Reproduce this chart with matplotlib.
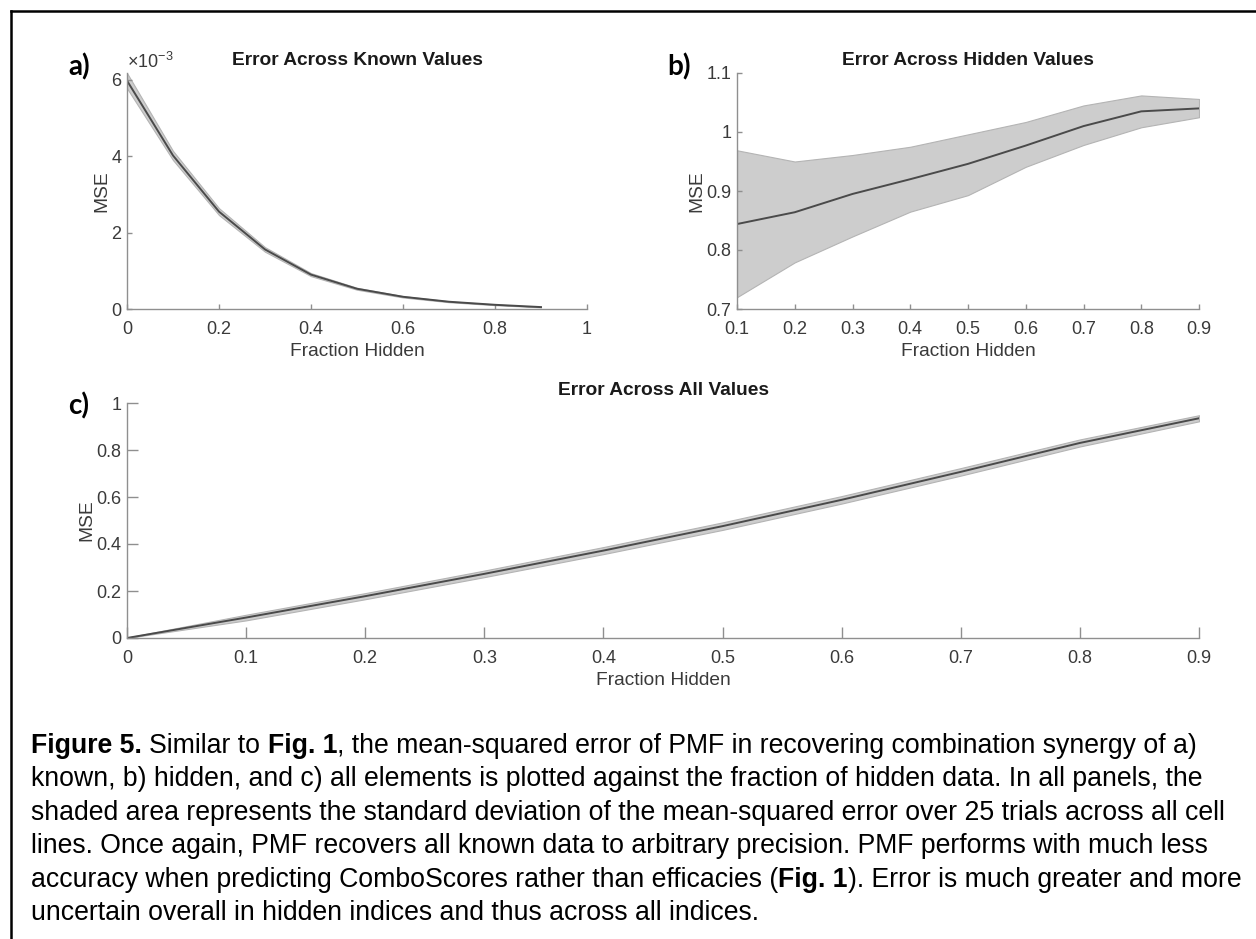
import matplotlib
matplotlib.use('Agg')
import matplotlib.pyplot as plt
from matplotlib.ticker import FuncFormatter, FixedLocator
from matplotlib.lines import Line2D

plt.rcParams['font.family'] = ['Liberation Sans', 'DejaVu Sans']
plt.rcParams['mathtext.fontset'] = 'custom'
plt.rcParams['mathtext.rm'] = 'Liberation Sans'
plt.rcParams['mathtext.it'] = 'Liberation Sans:italic'
plt.rcParams['mathtext.bf'] = 'Liberation Sans:bold'

# ---------------- data ----------------
# Panel a: error across known values (MSE)
frac_a = [0.0, 0.1, 0.2, 0.3, 0.4, 0.5, 0.6, 0.7, 0.8, 0.9]
mse_a = [5.98e-3, 4.02e-3, 2.55e-3, 1.56e-3, 0.90e-3, 0.53e-3, 0.32e-3, 0.19e-3, 0.11e-3, 0.05e-3]
std_a = [0.20e-3, 0.12e-3, 0.09e-3, 0.06e-3, 0.04e-3, 0.025e-3, 0.018e-3, 0.012e-3, 0.009e-3, 0.006e-3]

# Panel b: error across hidden values
frac_b = [0.1, 0.2, 0.3, 0.4, 0.5, 0.6, 0.7, 0.8, 0.9]
mse_b = [0.844, 0.864, 0.895, 0.920, 0.946, 0.977, 1.010, 1.035, 1.040]
upper_b = [0.969, 0.950, 0.961, 0.975, 0.996, 1.017, 1.045, 1.062, 1.056]
lower_b = [0.720, 0.779, 0.823, 0.865, 0.893, 0.941, 0.978, 1.008, 1.025]

# Panel c: error across all values
frac_c = [0.0, 0.1, 0.2, 0.3, 0.4, 0.5, 0.6, 0.7, 0.8, 0.9]
mse_c = [0.0, 0.087, 0.178, 0.273, 0.372, 0.476, 0.588, 0.707, 0.830, 0.935]
std_c = [0.002, 0.012, 0.013, 0.014, 0.015, 0.016, 0.016, 0.016, 0.015, 0.013]

xticks_a = [0, 0.2, 0.4, 0.6, 0.8, 1]
yticks_a = [0, 2e-3, 4e-3, 6e-3]
xticks_b = [0.1, 0.2, 0.3, 0.4, 0.5, 0.6, 0.7, 0.8, 0.9]
yticks_b = [0.7, 0.8, 0.9, 1.0, 1.1]
xticks_c = [0, 0.1, 0.2, 0.3, 0.4, 0.5, 0.6, 0.7, 0.8, 0.9]
yticks_c = [0, 0.2, 0.4, 0.6, 0.8, 1.0]

titles = ['Error Across Known Values', 'Error Across Hidden Values', 'Error Across All Values']
panel_tags = ['a)', 'b)', 'c)']
xlabel = 'Fraction Hidden'
ylabel = 'MSE'

caption_lines = [
    [('Figure 5.', True), (' Similar to ', False), ('Fig. 1', True),
     (', the mean-squared error of PMF in recovering combination synergy of a)', False)],
    [('known, b) hidden, and c) all elements is plotted against the fraction of hidden data. In all panels, the', False)],
    [('shaded area represents the standard deviation of the mean-squared error over 25 trials across all cell', False)],
    [('lines. Once again, PMF recovers all known data to arbitrary precision. PMF performs with much less', False)],
    [('accuracy when predicting ComboScores rather than efficacies (', False), ('Fig. 1', True),
     ('). Error is much greater and more', False)],
    [('uncertain overall in hidden indices and thus across all indices.', False)],
]

# ---------------- style ----------------
W, H = 1256, 939
LINE = '#4a4a4a'
FILL = '#cdcdcd'
EDGE = '#b4b4b4'
SPINE = '#8f8f8f'
TICKTXT = '#3a3a3a'
TITLE = '#1a1a1a'
TICK_FS = 13
LAB_FS = 13.75

fig = plt.figure(figsize=(W / 100, H / 100), dpi=100)


def rect(l, t, r, b):
    return [l / W, 1 - b / H, (r - l) / W, (b - t) / H]


def gfmt(scale=1.0):
    return FuncFormatter(lambda v, p: f'{round(v * scale, 6):g}')


def style(ax, ticklen):
    for s in ['top', 'right']:
        ax.spines[s].set_visible(False)
    for s in ['left', 'bottom']:
        ax.spines[s].set_color(SPINE)
        ax.spines[s].set_linewidth(1.0)
    ax.tick_params(axis='both', direction='in', length=ticklen, width=1.0,
                   color=SPINE, labelcolor=TICKTXT, labelsize=TICK_FS)
    ax.tick_params(axis='x', pad=8.5)
    ax.tick_params(axis='y', pad=4)
    ax.set_xlabel(xlabel, fontsize=LAB_FS, color=TICKTXT, labelpad=3.5)
    ax.set_ylabel(ylabel, fontsize=LAB_FS, color=TICKTXT, labelpad=1)


def band(ax, x, lo, hi, mean):
    ax.fill_between(x, lo, hi, facecolor=FILL, edgecolor=EDGE, linewidth=0.8, zorder=1)
    ax.plot(x, mean, color=LINE, linewidth=1.4, zorder=2)


# Panel a
ax_a = fig.add_axes(rect(127, 73, 587, 309))
lo_a = [m - s for m, s in zip(mse_a, std_a)]
hi_a = [m + s for m, s in zip(mse_a, std_a)]
band(ax_a, frac_a, lo_a, hi_a, mse_a)
ax_a.set_xlim(0, 1)
ax_a.set_ylim(0, max(hi_a))
ax_a.xaxis.set_major_locator(FixedLocator(xticks_a))
ax_a.yaxis.set_major_locator(FixedLocator(yticks_a))
ax_a.xaxis.set_major_formatter(gfmt())
ax_a.yaxis.set_major_formatter(gfmt(1e3))
style(ax_a, 3.3)
ax_a.set_title(titles[0], fontsize=LAB_FS, fontweight='bold', color=TITLE, pad=5.8)
ax_a.annotate(r'$\times10^{-3}$', xy=(0, 1), xycoords='axes fraction',
              xytext=(0, 3.6), textcoords='offset points', ha='left', va='baseline',
              fontsize=TICK_FS, color=TICKTXT)

# Panel b
ax_b = fig.add_axes(rect(737, 73, 1199, 309))
band(ax_b, frac_b, lower_b, upper_b, mse_b)
ax_b.set_xlim(0.1, 0.9)
ax_b.set_ylim(0.7, 1.1)
ax_b.xaxis.set_major_locator(FixedLocator(xticks_b))
ax_b.yaxis.set_major_locator(FixedLocator(yticks_b))
ax_b.xaxis.set_major_formatter(gfmt())
ax_b.yaxis.set_major_formatter(gfmt())
style(ax_b, 3.3)
ax_b.set_title(titles[1], fontsize=LAB_FS, fontweight='bold', color=TITLE, pad=5.8)

# Panel c
ax_c = fig.add_axes(rect(127, 403, 1199, 638))
lo_c = [max(m - s, 0) for m, s in zip(mse_c, std_c)]
hi_c = [m + s for m, s in zip(mse_c, std_c)]
band(ax_c, frac_c, lo_c, hi_c, mse_c)
ax_c.set_xlim(0, 0.9)
ax_c.set_ylim(0, 1)
ax_c.xaxis.set_major_locator(FixedLocator(xticks_c))
ax_c.yaxis.set_major_locator(FixedLocator(yticks_c))
ax_c.xaxis.set_major_formatter(gfmt())
ax_c.yaxis.set_major_formatter(gfmt())
style(ax_c, 7.7)
ax_c.set_title(titles[2], fontsize=LAB_FS, fontweight='bold', color=TITLE, pad=5.8)

# Panel tags
tag_pos = [(68, 75), (667, 75), (68, 414)]
for tag, (px, py) in zip(panel_tags, tag_pos):
    fig.text(px / W, 1 - py / H, tag, fontsize=20, fontweight='bold',
             family=['Lato', 'DejaVu Sans'], color='black', ha='left', va='baseline')

# Frame lines (top and left)
fig.add_artist(Line2D([11 / W, 1.0], [1 - 11 / H, 1 - 11 / H], color='black', linewidth=1.8))
fig.add_artist(Line2D([11 / W, 11 / W], [1 - 11 / H, 0.0], color='black', linewidth=1.8))

# Caption
renderer = fig.canvas.get_renderer()


def seg_width(s, size, bold):
    w = 'bold' if bold else 'normal'
    t1 = fig.text(0, 0, '|' + s + '|', fontsize=size, fontweight=w)
    t2 = fig.text(0, 0, '||', fontsize=size, fontweight=w)
    d = t1.get_window_extent(renderer).width - t2.get_window_extent(renderer).width
    t1.remove()
    t2.remove()
    return d


base_size = 19.0
w_ref = seg_width(caption_lines[2][0][0], base_size, False)
cap_size = base_size * 1193.0 / w_ref

x0 = 31
y0 = 753
dy = 33.4
for i, line in enumerate(caption_lines):
    x = x0
    yb = y0 + dy * i
    for seg, bold in line:
        lead = len(seg) - len(seg.lstrip(' '))
        xd = x + (seg_width(seg[:lead], cap_size, bold) if lead else 0)
        fig.text(xd / W, 1 - yb / H, seg.lstrip(' '), fontsize=cap_size,
                 fontweight='bold' if bold else 'normal', color='black',
                 ha='left', va='baseline')
        x += seg_width(seg, cap_size, bold)

fig.savefig('out.png', dpi=100)
